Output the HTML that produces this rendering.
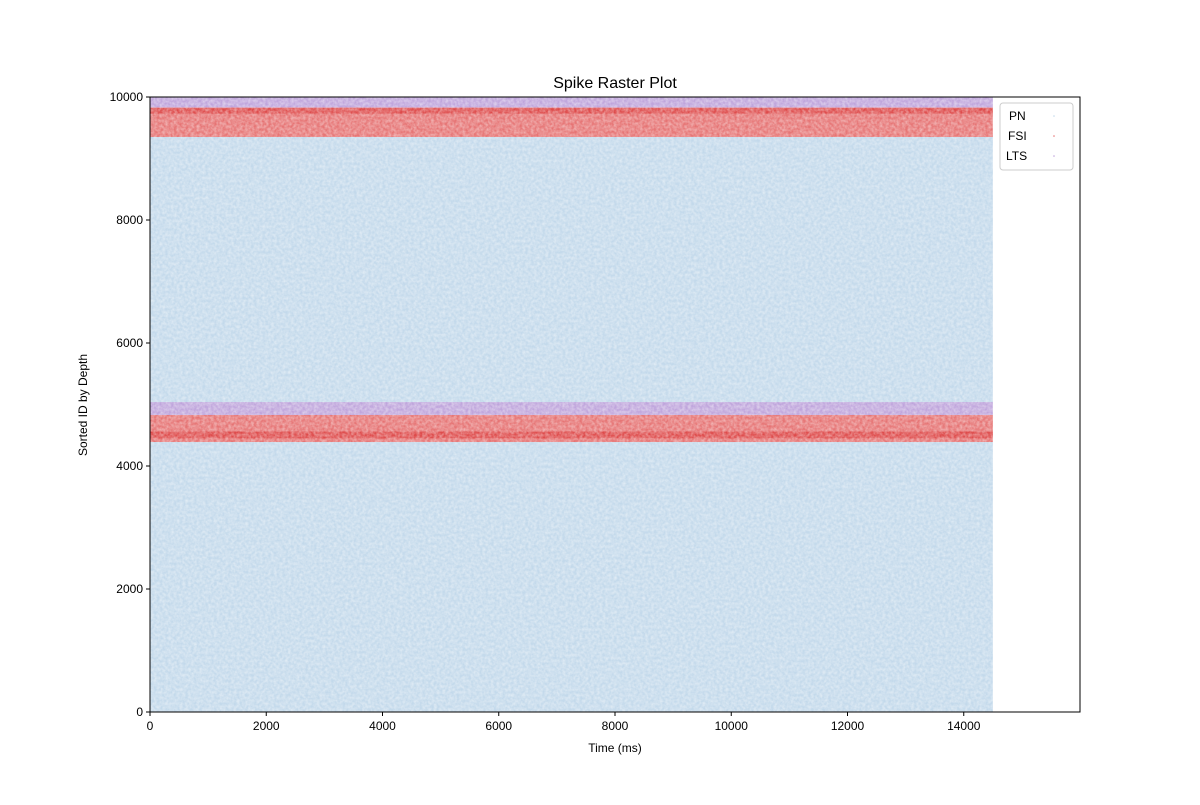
<!DOCTYPE html>
<html><head><meta charset="utf-8"><style>
body{margin:0;background:#fff;}
svg text{font-family:"Liberation Sans",sans-serif;fill:#000;}
</style></head><body>
<svg id="chart" width="1200" height="800" xmlns="http://www.w3.org/2000/svg">
<defs>
<filter id="noise" x="0" y="0" width="100%" height="100%">
<feTurbulence type="fractalNoise" baseFrequency="0.35" numOctaves="2" seed="3" result="t"/>
<feColorMatrix in="t" type="matrix" values="0 0 0 0 1  0 0 0 0 1  0 0 0 0 1  0 0 0 -1.3 1.0" result="m"/>
<feComposite in="m" in2="SourceGraphic" operator="in"/>
</filter>
</defs>
<rect x="0" y="0" width="1200" height="800" fill="#fff"/>
<text x="615" y="88" font-size="16" text-anchor="middle">Spike Raster Plot</text>
<g id="bands"></g>
<g id="axes"></g>
</svg>
<script>
const groups=["PN","FSI","LTS"];
const groupColors={PN:"#c3d9eb",FSI:"#e67474",LTS:"#bfa5dc"};
const bandGroup=["PN","FSI","LTS","PN","FSI","LTS"];
const bandStartId=[0,4390,4830,5040,9350,9830];
const bandEndId=[4390,4830,5040,9350,9830,10000];
const denseStartId=[null,4450,null,null,9730,null];
const denseEndId=[null,4560,null,null,9820,null];
const spikeStartMs=0, spikeEndMs=14500;
const xTicks=[0,2000,4000,6000,8000,10000,12000,14000];
const yTicks=[0,2000,4000,6000,8000,10000];
const xMax=16000, yMax=10000;
const L=150,R=1080,T=97,B=712;
const sx=v=>L+(v/xMax)*(R-L);
const sy=v=>B-(v/yMax)*(B-T);
const NS="http://www.w3.org/2000/svg";
const bands=document.getElementById("bands");
const axes=document.getElementById("axes");
function mk(tag,attrs,parent){const e=document.createElementNS(NS,tag);for(const k in attrs)e.setAttribute(k,attrs[k]);parent.appendChild(e);return e;}
bandGroup.forEach((g,i)=>{
  const x=sx(spikeStartMs),w=sx(spikeEndMs)-x,y=sy(bandEndId[i]),h=sy(bandStartId[i])-y;
  const r=mk("rect",{x:x,y:y,width:w,height:h,fill:groupColors[g]},bands);
  
  
  if(denseStartId[i]!==null){
    const ys=sy(denseEndId[i]),hs=sy(denseStartId[i])-ys;
    const s=mk("rect",{x:x,y:ys,width:w,height:hs,fill:"#d83030",opacity:0.6},bands);
    
    
  }
  const n=mk("rect",{x:x,y:y,width:w,height:h,fill:"#fff",filter:"url(#noise)",opacity:0.55},bands);
  
  
});
const frame=mk("rect",{x:L,y:T,width:R-L,height:B-T,fill:"none",stroke:"#000","stroke-width":1},axes);


xTicks.forEach(v=>{
  const x=sx(v);
  mk("line",{x1:x,x2:x,y1:B,y2:B+4,stroke:"#000"},axes);
  const t=mk("text",{x:x,y:B+18,"font-size":12,"text-anchor":"middle"},axes);
  t.textContent=v;
  
  
});
yTicks.forEach(v=>{
  const y=sy(v);
  mk("line",{x1:L-4,x2:L,y1:y,y2:y,stroke:"#000"},axes);
  const t=mk("text",{x:L-7,y:y+4,"font-size":12,"text-anchor":"end"},axes);
  t.textContent=v;
  
  
});
const xl=mk("text",{x:615,y:752,"font-size":12,"text-anchor":"middle"},axes);
xl.textContent="Time (ms)";


const yl=mk("text",{x:87,y:405,"font-size":12,"text-anchor":"middle",transform:"rotate(-90 87 405)"},axes);
yl.textContent="Sorted ID by Depth";


const lg=mk("g",{},axes);


mk("rect",{x:1000,y:103,width:73,height:67,rx:3,fill:"#fff",stroke:"#ccc"},lg);
groups.forEach((g,i)=>{
  const t=mk("text",{x:g==="PN"?1009:(g==="FSI"?1008:1006),y:120+i*20,"font-size":12,"text-anchor":"start"},lg);
  t.textContent=g;
  
  
  mk("circle",{cx:1054,cy:116+i*20,r:0.8,fill:groupColors[g]},lg);
});
</script>
</body></html>
